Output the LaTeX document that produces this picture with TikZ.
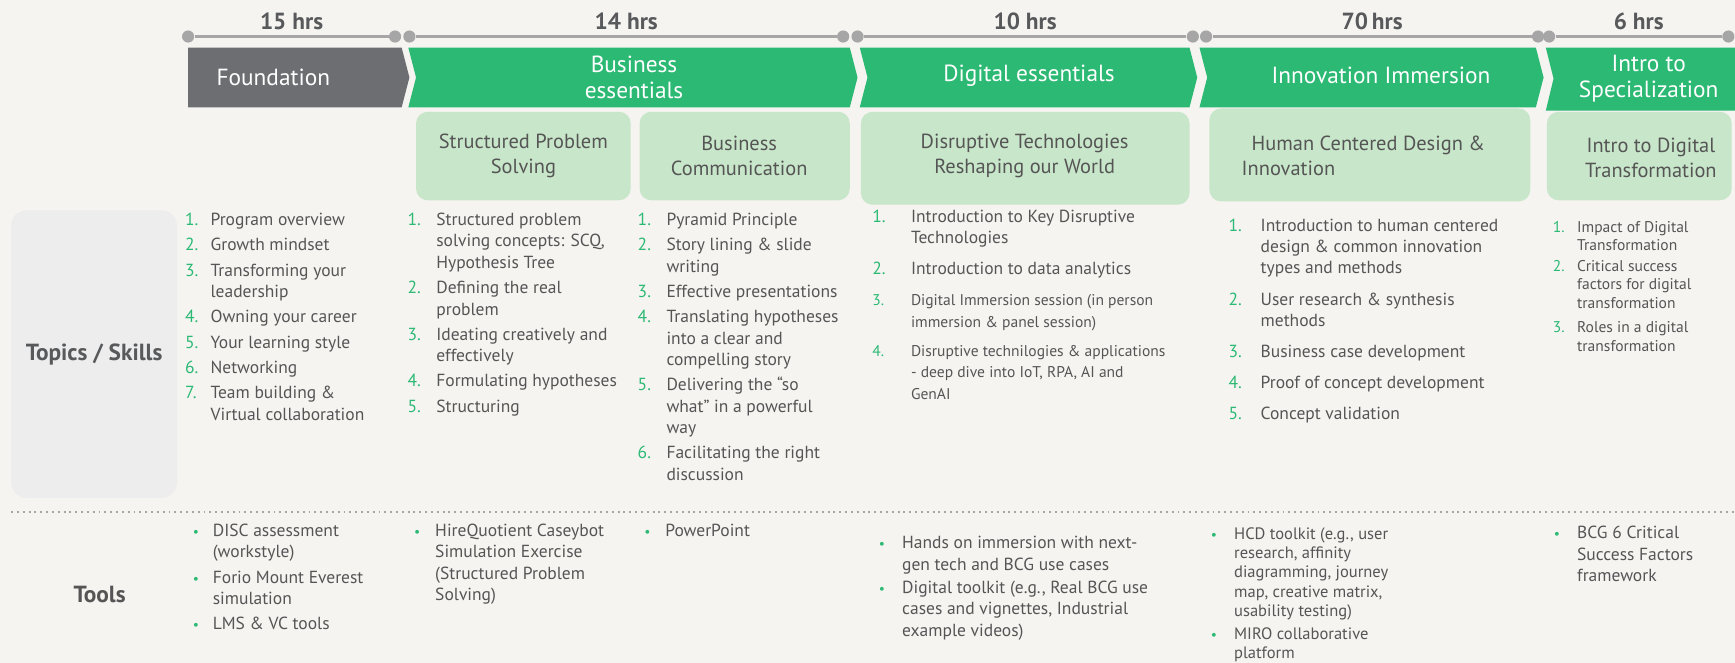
\documentclass[tikz,border=0pt]{standalone}
\usepackage{fontspec}
\setmainfont{PT Sans}
\usetikzlibrary{positioning}
\definecolor{bgpage}{HTML}{F5F4F1}
\definecolor{labelgrey}{HTML}{EDEDED}
\definecolor{lineg}{HTML}{A6A6A6}
\definecolor{headgreen}{HTML}{2BB973}
\definecolor{fgrey}{HTML}{6D6E72}
\definecolor{subgreen}{HTML}{C8E6C9}
\definecolor{numgreen}{HTML}{2BB973}
\definecolor{txt}{HTML}{555555}
\definecolor{txtdark}{HTML}{58595B}
\newcommand{\nm}[1]{\textcolor{numgreen}{#1.}}
\newcommand{\bl}{\hspace{0.08cm}\textcolor{numgreen}{\scriptsize\textbullet}}
\newcommand{\numlist}[2]{\begin{tabular}{@{}p{#1}@{}l@{}}#2\end{tabular}}

\begin{document}
\begin{tikzpicture}[x=0.02cm,y=-0.02cm,
  hrs/.style={font=\bfseries\fontsize{12}{14}\selectfont, text=txtdark},
  tick/.style={circle, fill=lineg, inner sep=0pt, minimum size=0.22cm},
  headtxt/.style={text=white, font=\fontsize{12}{13}\selectfont, align=center},
  subbox/.style={fill=subgreen, rounded corners=6pt},
  subtxt/.style={text=txt, font=\fontsize{10.5}{13}\selectfont, align=center},
  lst/.style={anchor=north west, inner sep=0pt, text=txt, font=\fontsize{9}{11}\selectfont},
  rowlabel/.style={text=txtdark, font=\bfseries\fontsize{12}{14}\selectfont}]
\fill[bgpage] (0,0) rectangle (1568,599);
\useasboundingbox (0,0) rectangle (1568,599);

\foreach \a/\b/\h/\n in {170/357/15 hrs/ta, 370/762/14 hrs/tb, 775/1078/10 hrs/tc, 1090/1390/70\,hrs/td, 1400/1562/6 hrs/te}{
  \node[tick] (\n1) at (\a,33) {};
  \node[tick] (\n2) at (\b,33) {};
  \draw[lineg, line width=2pt] (\n1) -- (\n2);
  \node[hrs] (\n h) at ({(\a+\b)/2},19) {\h};
}

\fill[fgrey] (170,43) -- (363,43) -- (370,70) -- (363,97) -- (170,97) -- cycle;
\fill[headgreen] (369,43) -- (768,43) -- (775,70) -- (768,97) -- (369,97) -- (376,70) -- cycle;
\fill[headgreen] (777,43) -- (1075,43) -- (1082,70) -- (1075,97) -- (777,97) -- (784,70) -- cycle;
\fill[headgreen] (1084,43) -- (1388,43) -- (1395,70) -- (1388,97) -- (1084,97) -- (1091,70) -- cycle;
\fill[headgreen] (1397,43) -- (1568,43) -- (1568,100) -- (1397,100) -- (1404,71) -- cycle;
\node[headtxt] (foundation) at (247,70) {Foundation};
\node[headtxt] (busess) at (573,70) {Business\\essentials};
\node[headtxt] (digess) at (930,68) {Digital essentials};
\node[headtxt] (innimm) at (1248,68) {Innovation Immersion};
\node[headtxt] (introspec) at (1490,71) {Intro to\\Specialization};

\fill[subbox] (376,101) rectangle (570,181);
\fill[subbox] (578,101) rectangle (768,181);
\fill[subbox] (778,101) rectangle (1075,185);
\fill[subbox] (1093,98) rectangle (1383,182);
\fill[subbox] (1398,101) rectangle (1565,181);
\node[subtxt] (sps) at (473,141) {Structured Problem\\Solving};
\node[subtxt] (bc) at (668,141) {Business\\Communication};
\node[subtxt] (dt) at (926,141) {Disruptive Technologies\\Reshaping our World};
\node[subtxt, align=left, anchor=west] (hcd) at (1116,141) {\hspace{0.18cm}Human Centered Design \&\\Innovation};
\node[subtxt] (itd) at (1492,143) {Intro to Digital\\Transformation};

\node[fill=labelgrey, rounded corners=8pt, minimum width=3cm, minimum height=5.2cm, rowlabel] (topics) at (85,320) {Topics / Skills};
\node[rowlabel, text=txt] (tools) at (90,537) {Tools};
\coordinate (sepL) at (10,463);
\coordinate (sepR) at (1568,463);
\draw[lineg, dotted, line width=1pt] (sepL) -- (sepR);

\node[lst] (fndlist) at (167,190) {\numlist{0.46cm}{
\nm1 & Program overview\\[2pt]
\nm2 & Growth mindset\\[2pt]
\nm3 & Transforming your\\ & leadership\\[2pt]
\nm4 & Owning your career\\[2pt]
\nm5 & Your learning style\\[2pt]
\nm6 & Networking\\[2pt]
\nm7 & Team building \&\\ & Virtual collaboration}};
\node[lst] (spslist) at (368,190) {\numlist{0.52cm}{
\nm1 & Structured problem\\ & solving concepts: SCQ,\\ & Hypothesis Tree\\[2pt]
\nm2 & Defining the real\\ & problem\\[2pt]
\nm3 & Ideating creatively and\\ & effectively\\[2pt]
\nm4 & Formulating hypotheses\\[2pt]
\nm5 & Structuring}};
\node[lst] (bclist) at (576,190) {\numlist{0.52cm}{
\nm1 & Pyramid Principle\\[2pt]
\nm2 & Story lining \& slide\\ & writing\\[2pt]
\nm3 & Effective presentations\\[2pt]
\nm4 & Translating hypotheses\\ & into a clear and\\ & compelling story\\[2pt]
\nm5 & Delivering the “so\\ & what” in a powerful\\ & way\\[2pt]
\nm6 & Facilitating the right\\ & discussion}};
\node[lst] (dtlist) at (788,187) {\numlist{0.7cm}{
\nm1 & Introduction to Key Disruptive\\ & Technologies\\[5pt]
\nm2 & Introduction to data analytics\\[5pt]
\footnotesize\nm3 & \footnotesize Digital Immersion session (in person\\ & \footnotesize immersion \& panel session)\\[4pt]
\footnotesize\nm4 & \footnotesize Disruptive technilogies \& applications\\ & \footnotesize - deep dive into IoT, RPA, AI and\\ & \footnotesize GenAI}};
\node[lst] (hcdlist) at (1110,195) {\numlist{0.58cm}{
\nm1 & Introduction to human centered\\ & design \& common innovation\\ & types and methods\\[5pt]
\nm2 & User research \& synthesis\\ & methods\\[5pt]
\nm3 & Business case development\\[5pt]
\nm4 & Proof of concept development\\[5pt]
\nm5 & Concept validation}};
\node[lst, font=\fontsize{8}{9.5}\selectfont] (itdlist) at (1403,198) {\numlist{0.44cm}{
\nm1 & Impact of Digital\\ & Transformation\\[1pt]
\nm2 & Critical success\\ & factors for digital\\ & transformation\\[3pt]
\nm3 & Roles in a digital\\ & transformation}};

\node[lst] (fndtools) at (170,471) {\numlist{0.44cm}{
\bl & DISC assessment\\ & (workstyle)\\[2pt]
\bl & Forio Mount Everest\\ & simulation\\[2pt]
\bl & LMS \& VC tools}};
\node[lst] (spstools) at (370,471) {\numlist{0.46cm}{
\bl & HireQuotient Caseybot\\ & Simulation Exercise\\ & (Structured Problem\\ & Solving)}};
\node[lst] (bctools) at (578,471) {\numlist{0.46cm}{
\bl & PowerPoint}};
\node[lst] (dttools) at (790,482) {\numlist{0.5cm}{
\bl & Hands on immersion with next-\\ & gen tech and BCG use cases\\[1pt]
\bl & Digital toolkit (e.g., Real BCG use\\ & cases and vignettes, Industrial\\ & example videos)}};
\node[lst, font=\fontsize{8.5}{9.9}\selectfont] (hcdtools) at (1090,475) {\numlist{0.5cm}{
\bl & HCD toolkit (e.g., user\\ & research, affinity\\ & diagramming, journey\\ & map, creative matrix,\\ & usability testing)\\[2pt]
\bl & MIRO collaborative\\ & platform}};
\node[lst] (itdtools) at (1400,473) {\numlist{0.5cm}{
\bl & BCG 6 Critical\\ & Success Factors\\ & framework}};
\end{tikzpicture}
\end{document}
